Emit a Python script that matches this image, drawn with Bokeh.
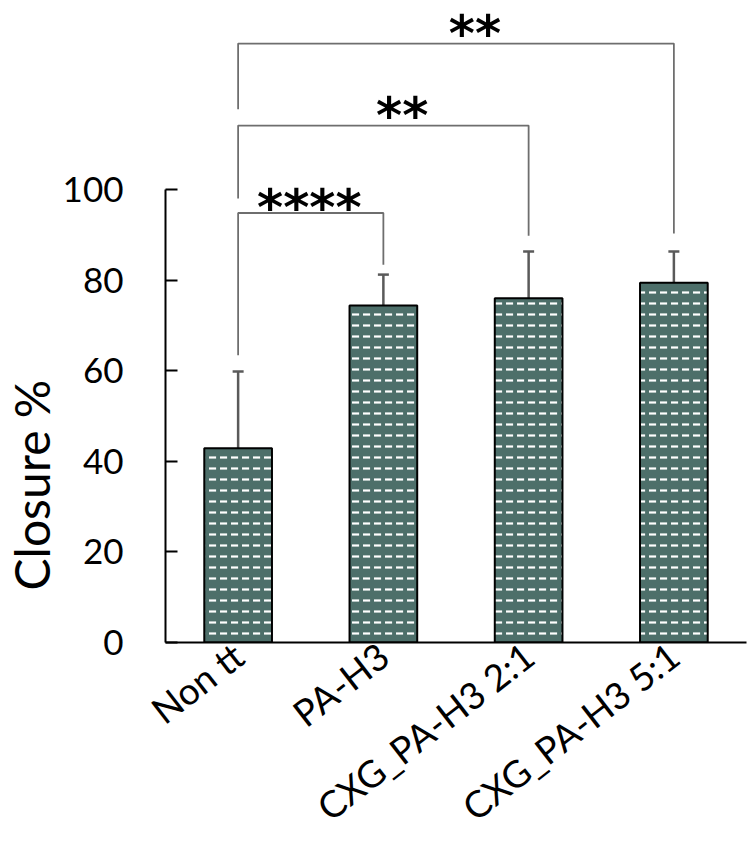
import math
from bokeh.plotting import figure
from bokeh.models import ColumnDataSource, Whisker, TeeHead, FixedTicker, Range1d, Title
from bokeh.core.properties import value
from bokeh.embed import file_html
from bokeh.resources import INLINE

# ---- data ----
categories = ["Non tt", "PA-H3", "CXG_PA-H3 2:1", "CXG_PA-H3 5:1"]
closure = [42.9, 74.4, 76.0, 79.4]
closure_sd = [16.9, 6.8, 10.3, 6.9]
y_ticks = [0, 20, 40, 60, 80, 100]

# significance brackets: (from index, to index, bar height, left leg end, right leg end)
br_left = [0, 0, 0]
br_right = [1, 2, 3]
br_height = [94.8, 114.1, 132.2]
br_left_end = [63.4, 98.0, 117.7]
br_right_end = [83.4, 89.8, 90.3]
br_labels = ["****", "**", "**"]
br_label_x = [0.49, 1.13, 1.63]
br_label_y = [96.0, 116.3, 134.4]

xs = list(range(len(categories)))

p = figure(width=750, height=849, output_backend="svg", toolbar_location=None,
           x_range=Range1d(-0.5, 3.5), y_range=Range1d(0, 141.7),
           min_border_left=162, min_border_right=4, min_border_top=0,
           min_border_bottom=207)
p.outline_line_color = None
p.xgrid.visible = False
p.ygrid.visible = False
p.background_fill_color = "white"

src = ColumnDataSource(dict(x=xs, top=closure,
                            upper=[m + s for m, s in zip(closure, closure_sd)],
                            lower=[m - s for m, s in zip(closure, closure_sd)]))

p.vbar(x="x", top="top", width=0.466, source=src, fill_color="#4d6f6a",
       line_color="black", line_width=2,
       hatch_pattern="horizontal_dash", hatch_color="white",
       hatch_scale=11, hatch_weight=2.2)

w = Whisker(base="x", upper="upper", lower="lower", source=src,
            line_color="#5a5a5a", line_width=2.5,
            upper_head=TeeHead(size=11, line_color="#5a5a5a", line_width=2.5),
            lower_head=TeeHead(size=11, line_color="#5a5a5a", line_width=2.5))
p.add_layout(w)

# brackets
bxs, bys = [], []
for a, b, h, le, re in zip(br_left, br_right, br_height, br_left_end, br_right_end):
    bxs.append([a, a, b, b])
    bys.append([le, h, h, re])
p.multi_line(xs=bxs, ys=bys, line_color="#6e6e6e", line_width=1.8)

p.text(x=br_label_x, y=br_label_y, text=br_labels,
       text_font=value("DejaVu Sans"), text_font_style="bold",
       text_font_size="50px", text_align="center", text_baseline="alphabetic",
       text_color="black")

# y axis
ya = p.yaxis[0]
ya.ticker = FixedTicker(ticks=y_ticks)
ya.bounds = (0, 100)
ya.axis_line_width = 2
ya.axis_line_color = "black"
ya.major_tick_in = 12
ya.major_tick_out = 0
ya.major_tick_line_width = 2
ya.minor_tick_line_color = None
ya.major_label_standoff = 42
ya.major_label_text_font = "Lato"
ya.major_label_text_font_size = "35px"
ya.major_label_text_color = "black"

# y axis title in the left panel, placed low like the reference
p.add_layout(Title(text="Closure %", align="left", offset=52,
                   text_font="Lato", text_font_size="48px",
                   text_font_style="normal", text_color="black",
                   standoff=0), "left")

# x axis
xa = p.xaxis[0]
xa.ticker = FixedTicker(ticks=xs)
xa.major_label_overrides = {i: c for i, c in zip(xs, categories)}
xa.axis_line_width = 2
xa.axis_line_color = "black"
xa.major_tick_line_color = None
xa.minor_tick_line_color = None
xa.major_label_orientation = 0.66
xa.major_label_standoff = 2
xa.major_label_text_font = "Lato"
xa.major_label_text_font_size = "37px"
xa.major_label_text_color = "black"

open("out.html", "w").write(file_html(p, INLINE))
